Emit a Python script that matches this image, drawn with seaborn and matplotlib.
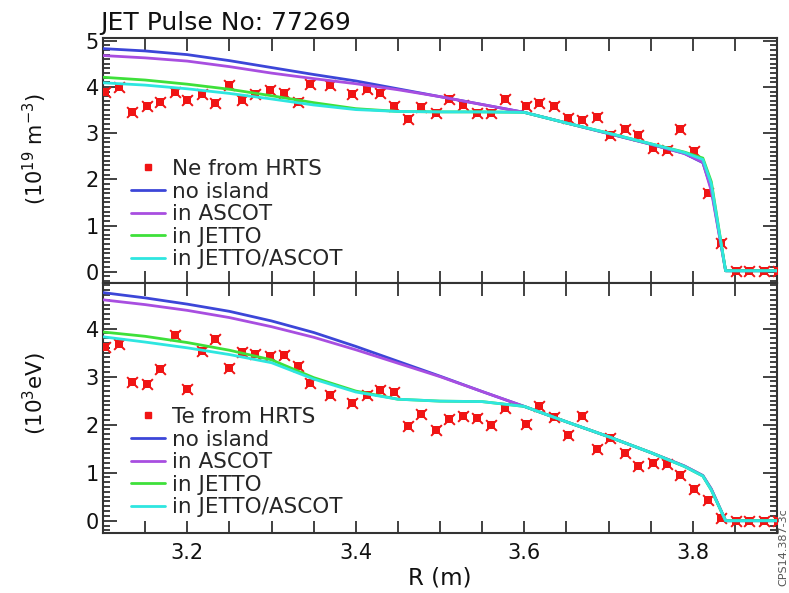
import numpy as np
import pandas as pd
import matplotlib
matplotlib.use("Agg")
import matplotlib.pyplot as plt
from matplotlib.lines import Line2D
from matplotlib.ticker import MultipleLocator
import seaborn as sns

# ---- HRTS measurement radii (m) ----
r_hrts = [3.102, 3.119, 3.135, 3.152, 3.168, 3.185, 3.200, 3.217, 3.233, 3.249,
          3.265, 3.281, 3.298, 3.315, 3.331, 3.346, 3.370, 3.396, 3.413, 3.429,
          3.445, 3.462, 3.478, 3.495, 3.511, 3.527, 3.544, 3.561, 3.577, 3.602,
          3.618, 3.635, 3.652, 3.669, 3.686, 3.702, 3.719, 3.735, 3.753, 3.769,
          3.785, 3.802, 3.818, 3.834, 3.851, 3.867, 3.885, 3.901]

# electron density (1e19 m^-3)
ne_hrts = [3.88, 4.00, 3.46, 3.58, 3.67, 3.90, 3.72, 3.85, 3.65, 4.04,
           3.71, 3.85, 3.93, 3.87, 3.67, 4.07, 4.05, 3.85, 3.96, 3.87,
           3.58, 3.31, 3.56, 3.44, 3.73, 3.60, 3.43, 3.43, 3.74, 3.59,
           3.65, 3.59, 3.33, 3.28, 3.36, 2.97, 3.08, 2.95, 2.67, 2.63,
           3.09, 2.62, 1.71, 0.62, 0.02, 0.02, 0.02, 0.02]

# electron temperature (keV)
te_hrts = [3.62, 3.69, 2.89, 2.84, 3.15, 3.86, 2.74, 3.53, 3.79, 3.19,
           3.51, 3.48, 3.44, 3.46, 3.22, 2.87, 2.61, 2.46, 2.61, 2.72,
           2.68, 1.97, 2.23, 1.88, 2.11, 2.19, 2.14, 1.99, 2.34, 2.02,
           2.39, 2.15, 1.79, 2.17, 1.50, 1.73, 1.41, 1.14, 1.20, 1.18,
           0.96, 0.67, 0.43, 0.05, 0.00, 0.00, 0.00, 0.00]

# ---- simulated profiles ----
r_model = [3.10, 3.15, 3.20, 3.25, 3.30, 3.35, 3.40, 3.45, 3.50, 3.55,
           3.60, 3.65, 3.70, 3.75, 3.79, 3.812, 3.822, 3.839, 3.87, 3.90]

ne_no_island = [4.83, 4.78, 4.70, 4.57, 4.42, 4.27, 4.13, 3.96, 3.79, 3.62,
                3.45, 3.22, 2.99, 2.76, 2.56, 2.36, 1.80, 0.02, 0.02, 0.02]
ne_ascot = [4.68, 4.63, 4.56, 4.44, 4.30, 4.18, 4.07, 3.94, 3.79, 3.62,
            3.45, 3.22, 2.99, 2.76, 2.56, 2.37, 1.75, 0.02, 0.02, 0.02]
ne_jetto = [4.21, 4.15, 4.06, 3.95, 3.81, 3.66, 3.53, 3.47, 3.46, 3.46,
            3.45, 3.22, 3.00, 2.77, 2.59, 2.46, 1.95, 0.02, 0.02, 0.02]
ne_jetto_ascot = [4.09, 4.04, 3.96, 3.86, 3.74, 3.61, 3.51, 3.47, 3.46, 3.46,
                  3.45, 3.22, 3.00, 2.77, 2.58, 2.43, 1.90, 0.02, 0.02, 0.02]

te_no_island = [4.75, 4.64, 4.51, 4.36, 4.16, 3.92, 3.63, 3.32, 3.01, 2.69,
                2.38, 2.06, 1.75, 1.42, 1.14, 0.94, 0.66, 0.00, 0.00, 0.00]
te_ascot = [4.60, 4.50, 4.38, 4.23, 4.04, 3.82, 3.56, 3.28, 3.00, 2.69,
            2.38, 2.06, 1.75, 1.42, 1.14, 0.94, 0.66, 0.00, 0.00, 0.00]
te_jetto = [3.93, 3.84, 3.71, 3.55, 3.35, 2.98, 2.70, 2.53, 2.49, 2.48,
            2.38, 2.06, 1.75, 1.42, 1.13, 0.93, 0.64, 0.00, 0.00, 0.00]
te_jetto_ascot = [3.83, 3.72, 3.60, 3.46, 3.29, 2.95, 2.68, 2.53, 2.49, 2.48,
                  2.38, 2.06, 1.75, 1.42, 1.13, 0.93, 0.64, 0.00, 0.00, 0.00]

model_names = ["no island", "in ASCOT", "in JETTO", "in JETTO/ASCOT"]
model_colors = {"no island": "#3c46d8", "in ASCOT": "#a84ee0",
                "in JETTO": "#3ee03a", "in JETTO/ASCOT": "#2ee6e0"}

def model_frame(curves):
    parts = []
    for name, vals in zip(model_names, curves):
        parts.append(pd.DataFrame({"R": r_model, "value": vals, "model": name}))
    return pd.concat(parts, ignore_index=True)

ne_models = model_frame([ne_no_island, ne_ascot, ne_jetto, ne_jetto_ascot])
te_models = model_frame([te_no_island, te_ascot, te_jetto, te_jetto_ascot])
hrts = pd.DataFrame({"R": r_hrts, "ne": ne_hrts, "te": te_hrts})

sns.set_theme(style="ticks")
plt.rcParams["font.family"] = ["DejaVu Sans"]
plt.rcParams["mathtext.fontset"] = "dejavusans"

W, H = 789, 593
fig = plt.figure(figsize=(W / 100, H / 100), dpi=100)
x0, x1 = 103, 777
ax1 = fig.add_axes([x0 / W, 1 - 283 / H, (x1 - x0) / W, (283 - 38) / H])
ax2 = fig.add_axes([x0 / W, 1 - 533 / H, (x1 - x0) / W, (533 - 283) / H])

RED = "#f01414"
AXC = "#333333"
TXT = "#111111"

def draw_panel(ax, ycol, models, ylim):
    sns.scatterplot(data=hrts, x="R", y=ycol, ax=ax, marker="s", s=30,
                    color=RED, edgecolor=RED, linewidth=0, zorder=3, legend=False)
    sns.scatterplot(data=hrts, x="R", y=ycol, ax=ax, marker="x", s=60,
                    color=RED, linewidth=1.4, zorder=3, legend=False)
    sns.lineplot(data=models, x="R", y="value", hue="model", hue_order=model_names,
                 palette=model_colors, sort=False, estimator=None, ax=ax,
                 linewidth=2.0, legend=False, zorder=4)
    ax.set_xlim(3.1, 3.9)
    ax.set_ylim(*ylim)
    ax.xaxis.set_major_locator(MultipleLocator(0.2))
    ax.xaxis.set_minor_locator(MultipleLocator(0.05))
    ax.yaxis.set_major_locator(MultipleLocator(1))
    ax.yaxis.set_minor_locator(MultipleLocator(0.1))
    ax.tick_params(which="both", direction="in", top=True, right=True,
                   colors=AXC, width=1.3)
    ax.tick_params(which="major", length=10, labelsize=15, labelcolor=TXT)
    ax.tick_params(which="minor", length=5)
    ax.tick_params(axis="x", which="major", length=9, pad=7)
    ax.tick_params(axis="x", which="minor", length=9)
    ax.tick_params(axis="y", pad=3)
    for sp in ax.spines.values():
        sp.set_visible(True)
        sp.set_color(AXC)
        sp.set_linewidth(1.5)
    ax.set_xlabel("")
    ax.set_ylabel("")

draw_panel(ax1, "ne", ne_models, (-0.245, 5.06))
draw_panel(ax2, "te", te_models, (-0.256, 4.95))
ax1.tick_params(axis="x", labelbottom=False)

def add_legend(ax, first_label, top_px):
    handles = [Line2D([], [], linestyle="none", marker="s", markersize=4.5,
                      color=RED)]
    handles += [Line2D([], [], color=model_colors[m], linewidth=2.0)
                for m in model_names]
    labels = [first_label] + model_names
    ax.legend(handles, labels, loc="upper left",
              bbox_to_anchor=(131 / W, 1 - top_px / H),
              bbox_transform=fig.transFigure, frameon=False, fontsize=15.5,
              handlelength=1.6, handletextpad=0.3, labelspacing=0.12,
              borderpad=0, borderaxespad=0)

add_legend(ax1, "Ne from HRTS", 159)
add_legend(ax2, "Te from HRTS", 407)

fig.text(100 / W, 1 - 30 / H, "JET Pulse No: 77269", fontsize=18,
         ha="left", va="baseline", color=TXT)
fig.text(35 / W, 1 - 149 / H, "(10$^{19}$ m$^{-3}$)", rotation=90,
         ha="center", va="center", fontsize=15, color=TXT)
fig.text(35 / W, 1 - 394 / H, "(10$^{3}$eV)", rotation=90,
         ha="center", va="center", fontsize=15.5, color=TXT)
fig.text(440 / W, 1 - 578 / H, "R (m)", ha="center", va="center",
         fontsize=16.5, color=TXT)
fig.text(0.9935, 0.012, "CPS14.387-3c", rotation=90, ha="center",
         va="bottom", fontsize=8, color="#555555")

fig.savefig("out.png", dpi=100)
